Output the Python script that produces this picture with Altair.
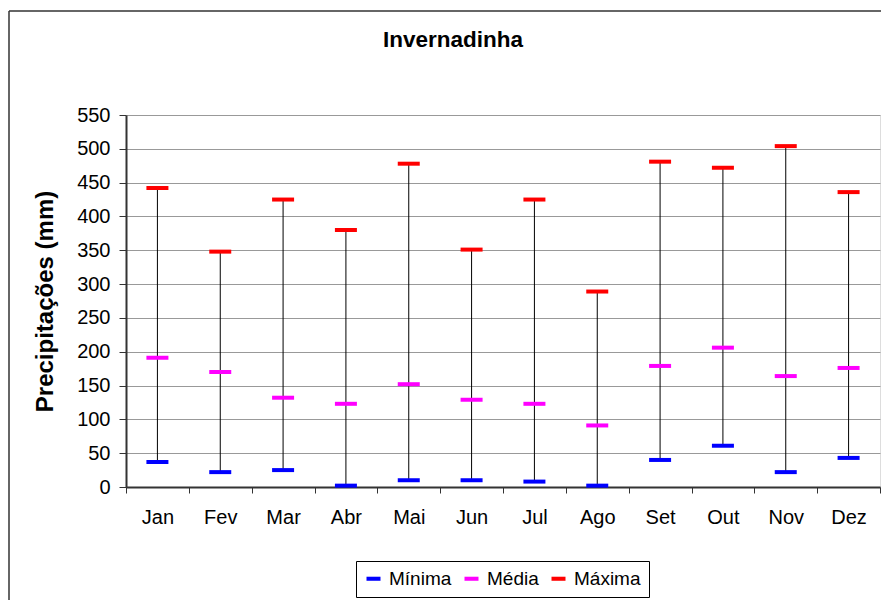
import altair as alt
import pandas as pd

months = ["Jan", "Fev", "Mar", "Abr", "Mai", "Jun", "Jul", "Ago", "Set", "Out", "Nov", "Dez"]
minima = [37, 22, 25, 2, 10, 10, 8, 2, 40, 61, 22, 43]
media = [191, 170, 132, 123, 152, 129, 123, 91, 179, 206, 164, 176]
maxima = [442, 348, 425, 380, 478, 351, 425, 289, 481, 472, 504, 436]
series = ["Mínima", "Média", "Máxima"]
series_colors = ["#0000FF", "#FF00FF", "#FF0000"]
y_ticks = list(range(0, 551, 50))
chart_title = "Invernadinha"
y_title = "Precipitações (mm)"

FONT = "Liberation Sans"

wide = pd.DataFrame({"mes": months, "minima": minima, "media": media, "maxima": maxima})
long = pd.concat([
    pd.DataFrame({"mes": months, "serie": series[0], "valor": minima}),
    pd.DataFrame({"mes": months, "serie": series[1], "valor": media}),
    pd.DataFrame({"mes": months, "serie": series[2], "valor": maxima}),
], ignore_index=True)

xscale = alt.Scale(domain=months, paddingInner=0, paddingOuter=0)
yscale = alt.Scale(domain=[0, 550], nice=False, zero=True)

x_axis = alt.Axis(
    title=None, labelAngle=0, tickBand="extent", tickSize=6, tickColor="#333333",
    domainColor="#333333", domainWidth=2, labelFont=FONT, labelFontSize=20,
    labelColor="black", labelPadding=14, grid=False,
)
y_axis = alt.Axis(
    values=y_ticks, grid=True, gridColor="#999999", gridWidth=1,
    domainColor="#333333", domainWidth=2, tickColor="#333333", tickSize=7,
    labelFont=FONT, labelFontSize=20, labelColor="black", labelPadding=9,
    title=y_title, titleFont=FONT, titleFontSize=24, titleFontWeight="bold",
    titleColor="black", titleX=-81, titleY=186, titleAngle=270,
    titleBaseline="middle", titleAlign="center",
)

rules = alt.Chart(wide).mark_rule(color="black", strokeWidth=1).encode(
    x=alt.X("mes:N", sort=months, scale=xscale, axis=x_axis),
    y=alt.Y("minima:Q", scale=yscale, axis=y_axis),
    y2="maxima:Q",
)

ticks = alt.Chart(long).mark_tick(size=22, thickness=4, opacity=1).encode(
    x=alt.X("mes:N", sort=months, scale=xscale, axis=x_axis),
    y=alt.Y("valor:Q", scale=yscale, axis=y_axis),
    color=alt.Color(
        "serie:N",
        scale=alt.Scale(domain=series, range=series_colors),
        legend=alt.Legend(
            title=None, orient="none", legendX=230, legendY=446, direction="horizontal",
            symbolType="M-1,-0.29H1V0.29H-1Z", symbolSize=196, symbolStrokeWidth=0,
            labelFont=FONT, labelFontSize=19, labelColor="black", labelOffset=6,
            columnPadding=10, padding=8, strokeColor="black", fillColor="white",
            cornerRadius=0,
        ),
    ),
)

one = pd.DataFrame({"t": [chart_title]})
title_mark = alt.Chart(one).mark_text(
    font=FONT, fontSize=22.5, fontWeight="bold", color="black", baseline="middle", align="center"
).encode(x=alt.value(327), y=alt.value(-75), text="t:N")

border_top = alt.Chart(one).mark_rule(color="#333333", strokeWidth=1.5).encode(
    x=alt.value(-117), x2=alt.value(760), y=alt.value(-104)
)
border_left = alt.Chart(one).mark_rule(color="#333333", strokeWidth=1.5).encode(
    x=alt.value(-117), y=alt.value(-104), y2=alt.value(490)
)

chart = alt.layer(rules, ticks, title_mark, border_top, border_left).properties(
    width=754, height=372,
    padding={"left": 118, "top": 107, "right": 1, "bottom": 113},
    autosize=alt.AutoSizeParams(type="none"),
).configure_view(stroke="#999999", strokeWidth=2).configure(background="white")

chart.save("out.html", embed_options={"renderer": "svg", "actions": False})
